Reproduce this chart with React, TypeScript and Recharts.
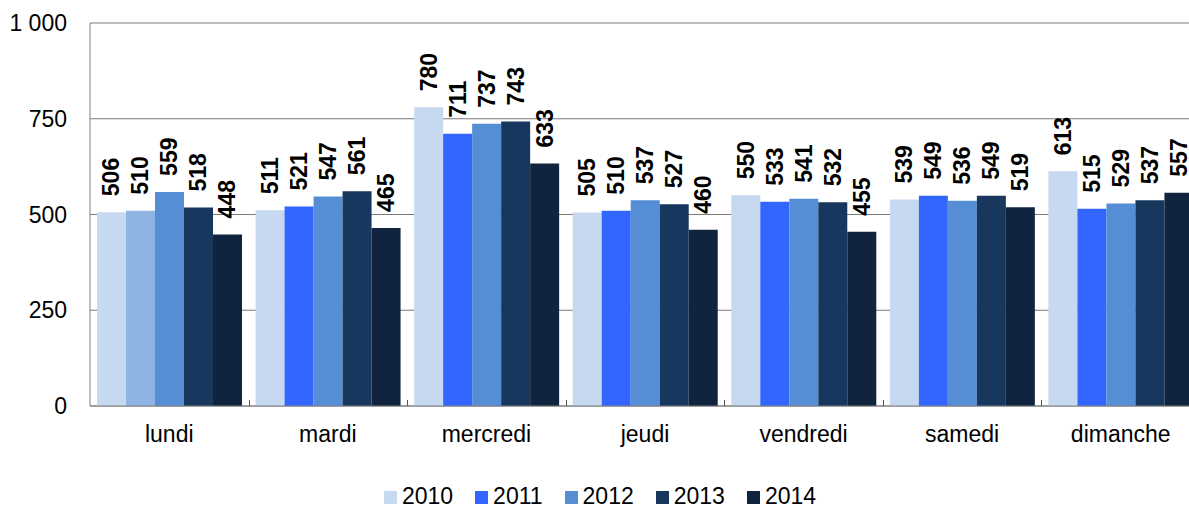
import React from 'react';
import {
  BarChart,
  Bar,
  XAxis,
  YAxis,
  CartesianGrid,
  Legend,
  LabelList,
  Cell,
} from 'recharts';

// Weekday categories and yearly values
const days = ['lundi', 'mardi', 'mercredi', 'jeudi', 'vendredi', 'samedi', 'dimanche'];
const years = ['2010', '2011', '2012', '2013', '2014'];
const v2010 = [506, 511, 780, 505, 550, 539, 613];
const v2011 = [510, 521, 711, 510, 533, 549, 515];
const v2012 = [559, 547, 737, 537, 541, 536, 529];
const v2013 = [518, 561, 743, 527, 532, 549, 537];
const v2014 = [448, 465, 633, 460, 455, 519, 557];
const yTicks = [0, 250, 500, 750, 1000];

const colors: Record<string, string> = {
  '2010': '#C6D9F1',
  '2011': '#3366FF',
  '2012': '#558ED5',
  '2013': '#17375E',
  '2014': '#10243F',
};
// Monday's 2011 bar uses a softer blue
const lundi2011Color = '#8DB4E2';

const data = days.map((d, i) => ({
  day: d,
  '2010': v2010[i],
  '2011': v2011[i],
  '2012': v2012[i],
  '2013': v2013[i],
  '2014': v2014[i],
}));

const FONT = '"Liberation Sans", Arial, Helvetica, sans-serif';
const X_LABEL_GAP = 20;

const formatThousands = (v: number) =>
  String(v).replace(/\B(?=(\d{3})+(?!\d))/g, ' ');

// Day name under each group, plus an inward tick at the group's left boundary
const DayTick = (props: any) => {
  const { x, y, payload } = props;
  const half = Number(payload?.offset ?? 0);
  const axisY = Number(y) - X_LABEL_GAP;
  const edgeX = Math.round(Number(x) - half) + 0.5;
  return (
    <g>
      {payload?.index > 0 && (
        <line x1={edgeX} x2={edgeX} y1={axisY} y2={axisY - 6} stroke="#555" strokeWidth={1} />
      )}
      <text
        x={x}
        y={y}
        dy="0.71em"
        textAnchor="middle"
        fontFamily={FONT}
        fontSize={23}
        fill="#000"
      >
        {payload?.value}
      </text>
    </g>
  );
};

const VerticalLabel = (props: any) => {
  const { x, y, width, value } = props;
  const cx = Number(x) + Number(width) / 2;
  const top = Number(y) - 16;
  return (
    <text
      x={cx}
      y={top}
      transform={`rotate(-90 ${cx} ${top})`}
      textAnchor="start"
      dominantBaseline="central"
      fontFamily={FONT}
      fontWeight="bold"
      fontSize={23}
      fill="#000"
    >
      {value}
    </text>
  );
};

const LegendContent = () => (
  <div
    style={{
      display: 'flex',
      justifyContent: 'center',
      fontFamily: FONT,
      fontSize: 23,
      lineHeight: '26px',
      color: '#000',
    }}
  >
    {years.map((y, i) => (
      <span
        key={y}
        style={{ marginRight: i === years.length - 1 ? 0 : 22, whiteSpace: 'nowrap' }}
      >
        <span
          style={{
            display: 'inline-block',
            width: 13,
            height: 13,
            background: colors[y],
            marginRight: 5,
            verticalAlign: 'baseline',
          }}
        />
        {y}
      </span>
    ))}
  </div>
);

export default function App() {
  return (
    <div
      style={{
        position: 'fixed',
        left: 0,
        top: 0,
        width: 1189,
        height: 506,
        overflow: 'hidden',
        background: '#fff',
      }}
    >
      <BarChart
        width={1200}
        height={506}
        data={data}
        margin={{ top: 23, right: 0, bottom: 14, left: 0 }}
        barCategoryGap={7}
        barGap={0}
      >
        <CartesianGrid vertical={false} stroke="#7a7a7a" strokeWidth={1} />
        <YAxis
          domain={[0, 1000]}
          ticks={yTicks}
          width={90}
          axisLine={{ stroke: '#808080', strokeWidth: 1 }}
          tickLine={false}
          tickSize={0}
          tickMargin={23}
          tickFormatter={formatThousands}
          tick={{ fill: '#000', fontSize: 23, fontFamily: FONT }}
          interval={0}
        />
        <XAxis
          dataKey="day"
          height={60}
          axisLine={{ stroke: '#808080', strokeWidth: 1 }}
          tickLine={false}
          tickSize={0}
          tickMargin={X_LABEL_GAP}
          tick={<DayTick />}
          interval={0}
        />
        <Legend
          verticalAlign="bottom"
          wrapperStyle={{ top: 483, left: 0, width: 1200 }}
          content={<LegendContent />}
        />
        {years.map((y) => (
          <Bar key={y} dataKey={y} fill={colors[y]} isAnimationActive={false}>
            {y === '2011' &&
              data.map((d, i) => (
                <Cell key={d.day} fill={i === 0 ? lundi2011Color : colors[y]} />
              ))}
            <LabelList dataKey={y} content={<VerticalLabel />} />
          </Bar>
        ))}
      </BarChart>
    </div>
  );
}
